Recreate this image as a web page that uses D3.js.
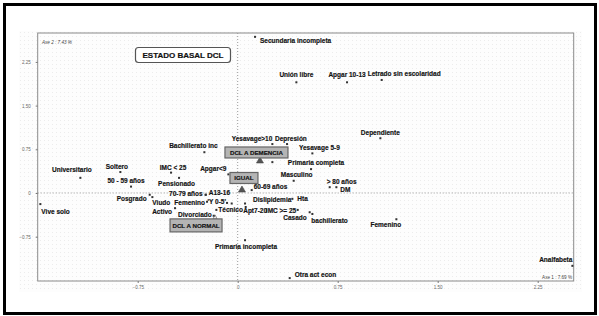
<!DOCTYPE html>
<html>
<head>
<meta charset="utf-8">
<script src="https://cdn.jsdelivr.net/npm/d3@7"></script>
<style>
  body { margin: 0; background: #fff; }
  svg { display: block; font-family: "Liberation Sans", Arial, sans-serif; }
  .lbl { font-size: 6.5px; font-weight: bold; fill: #111; stroke: #111; stroke-width: 0.15px; }
  .tick text { font-size: 4.5px; fill: #666; }
  .tick line { stroke: #777; }
</style>
</head>
<body>
<svg id="chart" width="599" height="316"></svg>
<script>
// category coordinates on the two factorial axes
const labels = [
  "Secundaria incompleta", "Unión libre", "Apgar 10-13", "Letrado sin escolaridad", "Dependiente",
  "Bachillerato inc", "Yesavage>10", "Depresión", "Yesavage 5-9", "Primaria completa",
  "", "Masculino", "> 80 años", "DM", "Apgar<9",
  "60-69 años", "Universitario", "Soltero", "50 - 59 años", "IMC < 25",
  "Pensionado", "Vive solo", "Posgrado", "Viudo", "70-79 años",
  "A13-16", "Femenino", "'Y 0-5'", "Activo", "Divorciado",
  "Técnico", "Apt7-20", "Dislipidemia", "Hta", "IMC >= 25",
  "Casado", "bachillerato", "Femenino", "Primaria incompleta", "Otra act econ",
  "Analfabeta", ""
];
const axis1 = [
  0.13, 0.44, 0.82, 1.08, 1.07,
  -0.25, 0.26, 0.37, 0.56, 0.55,
  0.26, 0.42, 0.69, 0.74, -0.07,
  0.105, -1.18, -0.88, -0.80, -0.50,
  -0.44, -1.48, -0.66, -0.64, -0.24,
  -0.24, -0.23, -0.08, -0.47, -0.18,
  -0.16, 0.06, 0.055, 0.41, 0.45,
  0.54, 0.56, 1.19, 0.055, 0.39,
  2.51, -0.045
];
const axis2 = [
  2.68, 1.90, 1.90, 1.94, 0.94,
  0.70, 0.84, 0.84, 0.68, 0.41,
  0.53, 0.21, 0.10, 0.10, 0.32,
  0.05, 0.26, 0.36, 0.11, 0.35,
  0.26, -0.19, -0.03, -0.07, -0.03,
  -0.03, -0.15, -0.17, -0.26, -0.39,
  -0.29, -0.24, -0.18, -0.10, -0.29,
  -0.33, -0.36, -0.45, -0.81, -1.46,
  -1.25, -0.18
];

// supplementary groups (DCL baseline state)
const groups = ["DCL A DEMENCIA", "IGUAL", "DCL A NORMAL"];
const groupAxis1 = [0.167, 0.032, -0.17];
const groupAxis2 = [0.567, 0.069, -0.41];

const tickValues = [-0.75, 0, 0.75, 1.5, 2.25];
const title = "ESTADO BASAL DCL";
const axisNames = ["Axe 1 : 7.69 %", "Axe 2 : 7.43 %"];

const svg = d3.select("#chart");

// label placement: [dx, dy, anchor]
const place = [
  [5, 6, "start"], [0, -5, "middle"], [0, -5, "middle"], [-14, -4, "start"], [0, -3, "middle"],
  [-11, -4, "middle"], [0, -3, "end"], [-12, -3, "start"], [7, -3, "middle"], [5, -4, "middle"],
  [0, 0, "start"], [3, -3.5, "middle"], [-3, -3.5, "start"], [4, 5, "start"], [-2, -3.5, "end"],
  [2, -1, "start"], [-8.5, -6, "middle"], [-3.5, -3.5, "middle"], [-5, -3.7, "middle"], [2, -3, "middle"],
  [-2.5, 8, "middle"], [1, 10, "start"], [-3, 6, "end"], [0, 8, "start"], [-3, 1, "end"],
  [3, 0, "start"], [-2, 3, "end"], [-1, 1, "end"], [-3, 6, "end"], [-2, 1, "end"],
  [2, 2, "start"], [-2.5, 6.5, "start"], [8, -2, "start"], [5, 2, "start"], [-1.5, 3, "end"],
  [-3, 7.5, "end"], [-1, 9, "start"], [-10.5, 8, "middle"], [1, 9, "middle"], [5, -0.7, "start"],
  [0, -4, "end"], [0, 0, "start"]
];

const x = d3.scaleLinear().domain([-1.5, 2.52]).range([37.7, 573.7]);
const y = d3.scaleLinear().domain([-1.51, 2.746]).range([281, 33]);

// dotted backdrop
const defs = svg.append("defs");
const pat = defs.append("pattern")
  .attr("id", "dots").attr("width", 4).attr("height", 4)
  .attr("patternUnits", "userSpaceOnUse");
pat.append("rect").attr("width", 4).attr("height", 4).attr("fill", "#fdfdfd");
pat.append("rect").attr("width", 1).attr("height", 1).attr("fill", "#ececec");

svg.append("rect")
  .attr("x", 19).attr("y", 31).attr("width", 563).attr("height", 261)
  .attr("fill", "url(#dots)");

// outer frame
svg.append("rect")
  .attr("x", 4.5).attr("y", 4.5).attr("width", 591).attr("height", 309)
  .attr("fill", "none").attr("stroke", "#000").attr("stroke-width", 3);

// plot frame
svg.append("rect")
  .attr("x", 37.7).attr("y", 33).attr("width", 536).attr("height", 248)
  .attr("fill", "none").attr("stroke", "#8a8a8a").attr("stroke-width", 1);

// axes
const fmt = d => d === 0 ? "0" : d3.format(".2f")(d);
const gx = svg.append("g")
  .attr("transform", "translate(0,281)")
  .call(d3.axisBottom(x).tickValues(tickValues).tickFormat(fmt).tickSize(2).tickPadding(3));
const gy = svg.append("g")
  .attr("transform", "translate(37.7,0)")
  .call(d3.axisLeft(y).tickValues(tickValues).tickFormat(fmt).tickSize(2).tickPadding(5));
gx.select(".domain").remove();
gy.select(".domain").remove();

// zero reference lines
svg.append("line")
  .attr("x1", x(0)).attr("x2", x(0)).attr("y1", 33).attr("y2", 281)
  .attr("stroke", "#999").attr("stroke-dasharray", "1,2");
svg.append("line")
  .attr("x1", 37.7).attr("x2", 573.7).attr("y1", y(0)).attr("y2", y(0))
  .attr("stroke", "#999").attr("stroke-dasharray", "1,2");

// axis names
svg.append("text")
  .attr("x", 42).attr("y", 43.5)
  .attr("font-size", 4.6).attr("font-style", "italic").attr("fill", "#444")
  .text(axisNames[1]);
svg.append("text")
  .attr("x", 572).attr("y", 278.5).attr("text-anchor", "end")
  .attr("font-size", 4.6).attr("fill", "#444")
  .text(axisNames[0]);

// title box
svg.append("rect")
  .attr("x", 135.5).attr("y", 47.5).attr("width", 95).attr("height", 15).attr("rx", 3)
  .attr("fill", "#fff").attr("stroke", "#555").attr("stroke-width", 1.2);
svg.append("text")
  .attr("x", 183).attr("y", 58).attr("text-anchor", "middle")
  .attr("font-size", 8).attr("font-weight", "bold").attr("fill", "#111")
  .attr("stroke", "#111").attr("stroke-width", 0.2)
  .text(title);

// category points
const pts = labels.map((l, i) => ({ label: l, a1: axis1[i], a2: axis2[i], p: place[i] }));

svg.selectAll(".pt")
  .data(pts)
  .enter().append("rect")
  .attr("class", "pt")
  .attr("x", d => x(d.a1) - 1)
  .attr("y", d => y(d.a2) - 1)
  .attr("width", 2).attr("height", 2)
  .attr("fill", "#333");

svg.selectAll(".lbl")
  .data(pts.filter(d => d.label !== ""))
  .enter().append("text")
  .attr("class", "lbl")
  .attr("x", d => x(d.a1) + d.p[0])
  .attr("y", d => y(d.a2) + d.p[1])
  .attr("text-anchor", d => d.p[2])
  .text(d => d.label);

// supplementary group markers and boxes
const grp = groups.map((g, i) => ({ name: g, a1: groupAxis1[i], a2: groupAxis2[i] }));
const tri = [[7, 6], [7, 6], [4, 4]];
const box = [[-35, -13, 63, 11], [-12, -16.5, 28, 11], [-45, 2, 52, 13]];

svg.selectAll(".tri")
  .data(grp)
  .enter().append("path")
  .attr("class", "tri")
  .attr("d", (d, i) => {
    const cx = x(d.a1), cy = y(d.a2), w = tri[i][0], h = tri[i][1];
    return `M${cx - w / 2},${cy + h / 2}L${cx + w / 2},${cy + h / 2}L${cx},${cy - h / 2}Z`;
  })
  .attr("fill", (d, i) => i === 2 ? "none" : "#555")
  .attr("stroke", "#444").attr("stroke-width", 0.6);

svg.selectAll(".gbox")
  .data(grp)
  .enter().append("rect")
  .attr("class", "gbox")
  .attr("x", (d, i) => x(d.a1) + box[i][0])
  .attr("y", (d, i) => y(d.a2) + box[i][1])
  .attr("width", (d, i) => box[i][2])
  .attr("height", (d, i) => box[i][3])
  .attr("fill", "#b4b4b4").attr("stroke", "#666").attr("stroke-width", 1.2);

svg.selectAll(".gtxt")
  .data(grp)
  .enter().append("text")
  .attr("class", "gtxt")
  .attr("x", (d, i) => x(d.a1) + box[i][0] + box[i][2] / 2)
  .attr("y", (d, i) => y(d.a2) + box[i][1] + box[i][3] / 2 + 2.2)
  .attr("text-anchor", "middle")
  .attr("font-size", 6.2).attr("font-weight", "bold").attr("fill", "#111")
  .attr("stroke", "#111").attr("stroke-width", 0.15)
  .text(d => d.name);
</script>
</body>
</html>
